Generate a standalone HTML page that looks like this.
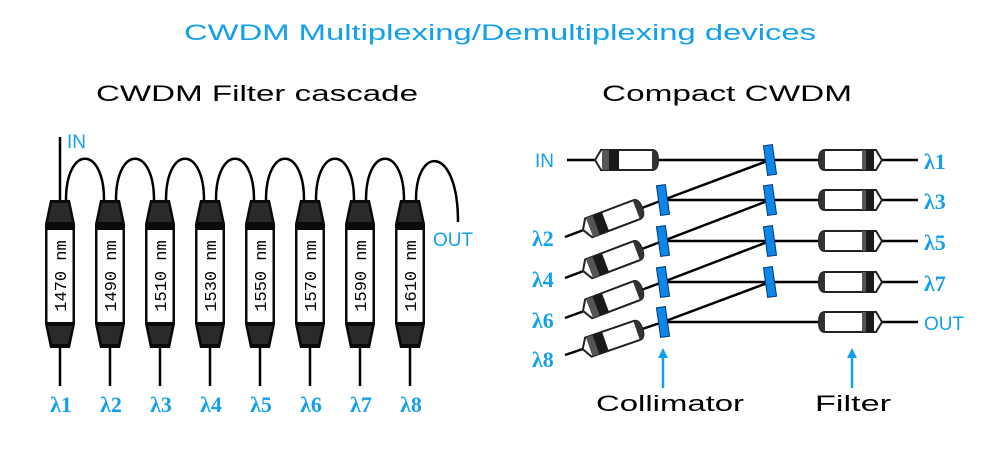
<!DOCTYPE html>
<html><head><meta charset="utf-8"><style>
body{margin:0;background:#fff}
svg{display:block}
.t{font-family:"Liberation Sans",sans-serif}
.l{font-family:"Liberation Serif",serif;font-weight:bold;fill:#12a0ee;font-size:22px}
.b{fill:#12a0ee}
.fl{font-family:"Liberation Mono",monospace;font-size:17px}
</style></head><body>
<svg width="1000" height="449" viewBox="0 0 1000 449" xmlns="http://www.w3.org/2000/svg">
<defs>
<g id="filt">
  <line x1="0" y1="148" x2="0" y2="186" stroke="#000" stroke-width="2.5"/>
  <path d="M-10,0 L10,0 L15,24 L15,124 L10,148 L-10,148 L-15,124 L-15,24 Z" fill="#0a0a0a"/>
  <path d="M-8,3 L8,3 L12,22 L-12,22 Z" fill="#2a2a2a"/>
  <path d="M-12,126 L12,126 L8,144 L-8,144 Z" fill="#2a2a2a"/>
  <rect x="-12.5" y="30" width="25" height="92" fill="#fff"/>
</g>
<g id="tube">
  <path d="M-31,0 L-25,-10 L26,-10 Q32,-10 32,0 Q32,10 26,10 L-25,10 Z" fill="#fff" stroke="#222" stroke-width="2"/>
  <rect x="-24" y="-10" width="17" height="20" fill="#1a1a1a"/>
  <rect x="-24" y="-10" width="7" height="20" fill="#555"/>
  <path d="M26,-10 Q32,-10 32,0 Q32,10 26,10 Z" fill="#333"/>
</g>
<g id="ftube">
  <path d="M31,0 L25,-10 L-26,-10 Q-32,-10 -32,0 Q-32,10 -26,10 L25,10 Z" fill="#fff" stroke="#222" stroke-width="2"/>
  <rect x="11" y="-10" width="12" height="20" fill="#1a1a1a"/>
  <rect x="11" y="-10" width="4" height="20" fill="#555"/>
  <path d="M-26,-10 Q-32,-10 -32,0 Q-32,10 -26,10 Z" fill="#333"/>
</g>
<g id="col"><rect x="-4.5" y="-15" width="9" height="30" fill="#0c86e8" stroke="#003a7a" stroke-width="1" transform="rotate(-8)"/></g>
</defs>

<text class="t b" x="500" y="40" font-size="22" text-anchor="middle" textLength="632" lengthAdjust="spacingAndGlyphs">CWDM Multiplexing/Demultiplexing devices</text>
<text class="t" x="257" y="101" font-size="22" text-anchor="middle" textLength="322" lengthAdjust="spacingAndGlyphs">CWDM Filter cascade</text>
<text class="t" x="727" y="101" font-size="22" text-anchor="middle" textLength="250" lengthAdjust="spacingAndGlyphs">Compact CWDM</text>

<line x1="60" y1="137" x2="60" y2="202" stroke="#000" stroke-width="2.5"/>
<text class="t b" x="67" y="148" font-size="19">IN</text>
<g fill="none" stroke="#000" stroke-width="2.5">
<path d="M66,200 C66,145 104,145 104,200"/>
<path d="M116,200 C116,145 154,145 154,200"/>
<path d="M166,200 C166,145 204,145 204,200"/>
<path d="M216,200 C216,145 254,145 254,200"/>
<path d="M266,200 C266,145 304,145 304,200"/>
<path d="M316,200 C316,145 354,145 354,200"/>
<path d="M366,200 C366,145 404,145 404,200"/>
<path d="M416,200 C416,145 458,145 458,222"/>
</g>
<text class="t b" x="433" y="246" font-size="19">OUT</text>
<g transform="translate(60,200)"><use href="#filt"/><text class="fl" transform="translate(6,76) rotate(-90)" text-anchor="middle">1470 nm</text></g>
<g transform="translate(110,200)"><use href="#filt"/><text class="fl" transform="translate(6,76) rotate(-90)" text-anchor="middle">1490 nm</text></g>
<g transform="translate(160,200)"><use href="#filt"/><text class="fl" transform="translate(6,76) rotate(-90)" text-anchor="middle">1510 nm</text></g>
<g transform="translate(210,200)"><use href="#filt"/><text class="fl" transform="translate(6,76) rotate(-90)" text-anchor="middle">1530 nm</text></g>
<g transform="translate(260,200)"><use href="#filt"/><text class="fl" transform="translate(6,76) rotate(-90)" text-anchor="middle">1550 nm</text></g>
<g transform="translate(310,200)"><use href="#filt"/><text class="fl" transform="translate(6,76) rotate(-90)" text-anchor="middle">1570 nm</text></g>
<g transform="translate(360,200)"><use href="#filt"/><text class="fl" transform="translate(6,76) rotate(-90)" text-anchor="middle">1590 nm</text></g>
<g transform="translate(410,200)"><use href="#filt"/><text class="fl" transform="translate(6,76) rotate(-90)" text-anchor="middle">1610 nm</text></g>
<g class="l" text-anchor="middle">
<text x="61" y="412">λ1</text><text x="111" y="412">λ2</text><text x="161" y="412">λ3</text><text x="211" y="412">λ4</text>
<text x="261" y="412">λ5</text><text x="311" y="412">λ6</text><text x="361" y="412">λ7</text><text x="411" y="412">λ8</text>
</g>

<g stroke="#000" stroke-width="2.5" fill="none">
<line x1="567" y1="160" x2="918" y2="160"/>
<line x1="663" y1="200" x2="918" y2="200"/>
<line x1="663" y1="241" x2="918" y2="241"/>
<line x1="663" y1="282" x2="918" y2="282"/>
<line x1="663" y1="322" x2="918" y2="322"/>
<line x1="565" y1="237" x2="663" y2="200"/><line x1="663" y1="200" x2="770" y2="160"/>
<line x1="565" y1="278" x2="663" y2="241"/><line x1="663" y1="241" x2="770" y2="200"/>
<line x1="565" y1="318" x2="663" y2="282"/><line x1="663" y1="282" x2="770" y2="241"/>
<line x1="565" y1="355" x2="663" y2="322"/><line x1="663" y1="322" x2="770" y2="282"/>
</g>
<use href="#tube" transform="translate(626,160)"/>
<use href="#tube" transform="translate(612,219) rotate(-20.7)"/>
<use href="#tube" transform="translate(612,260) rotate(-20.7)"/>
<use href="#tube" transform="translate(612,300) rotate(-20.7)"/>
<use href="#tube" transform="translate(612,339) rotate(-19)"/>
<use href="#ftube" transform="translate(851,160)"/>
<use href="#ftube" transform="translate(851,200)"/>
<use href="#ftube" transform="translate(851,241)"/>
<use href="#ftube" transform="translate(851,282)"/>
<use href="#ftube" transform="translate(851,322)"/>
<use href="#col" transform="translate(663,200)"/>
<use href="#col" transform="translate(663,241)"/>
<use href="#col" transform="translate(663,282)"/>
<use href="#col" transform="translate(663,322)"/>
<use href="#col" transform="translate(770,160)"/>
<use href="#col" transform="translate(770,200)"/>
<use href="#col" transform="translate(770,241)"/>
<use href="#col" transform="translate(770,282)"/>

<text class="t b" x="535" y="167" font-size="19">IN</text>
<g class="l"><text x="532" y="246">λ2</text><text x="532" y="287">λ4</text><text x="532" y="328">λ6</text><text x="532" y="367">λ8</text>
<text x="924" y="169">λ1</text><text x="924" y="209">λ3</text><text x="924" y="250">λ5</text><text x="924" y="291">λ7</text></g>
<text class="t b" x="924" y="330" font-size="19">OUT</text>

<g fill="#12a0ee" stroke="#12a0ee" stroke-width="2.5">
<line x1="663" y1="388" x2="663" y2="356"/><path d="M658,358 L663,348 L668,358 Z" stroke="none"/>
<line x1="852" y1="388" x2="852" y2="356"/><path d="M847,358 L852,348 L857,358 Z" stroke="none"/>
</g>
<text class="t" x="670" y="411" font-size="22" text-anchor="middle" textLength="148" lengthAdjust="spacingAndGlyphs">Collimator</text>
<text class="t" x="853" y="411" font-size="22" text-anchor="middle" textLength="76" lengthAdjust="spacingAndGlyphs">Filter</text>
</svg>
</body></html>
